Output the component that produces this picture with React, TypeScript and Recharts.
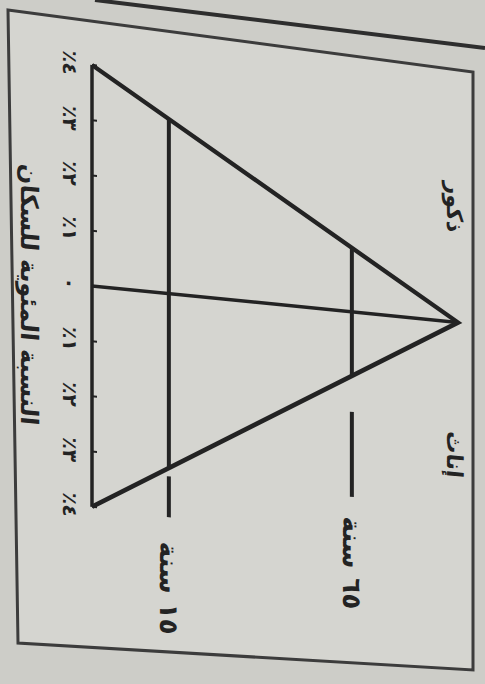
import React from "react";
import { ScatterChart, Scatter, XAxis, YAxis, ReferenceDot } from "recharts";

// ---------------------------------------------------------------------------
// Schematic population pyramid (photo of a textbook page, turned on its side).
// The chart is drawn upright and the whole thing is rotated + sheared with CSS
// so that it sits like the photographed page.
// ---------------------------------------------------------------------------

const INK = "#232323";
const FONT = "'DejaVu Sans', sans-serif";

// percentage axis (males on the negative side)
const pctTicks = [-4, -3, -2, -1, 0, 1, 2, 3, 4];
const pctTickLabels = ["٪٤", "٪٣", "٪٢", "٪١", "٠", "٪١", "٪٢", "٪٣", "٪٤"];
const axisTitle = "النسبة المئوية للسكان";

// pyramid outline: base corners at ±4 %, apex at the top of the age scale
const outlinePct = [-4, 0, 4];
const outlineLevel = [0, 100, 0];
const basePct = [-4, 4];
const centerLevel = [0, 100];

// age dividers
const ageLabels = ["١٥ سنة", "٦٥ سنة"];
const ageLevels = [21, 71];
const ageHalfWidth = [3.16, 1.16];
const ageTickFrom = [3.31, 1.81];
const ageTickTo = [4.05, 3.35];
const ageLabelAt = [4.5, 3.71];

// sex labels near the apex
const sexLabels = ["ذكور", "إناث"];
const sexPct = [-2.08, 2.4];
const sexLevel = 99;

type Pt = { pct: number; level: number };

const outline: Pt[] = outlinePct.map((p, i) => ({ pct: p, level: outlineLevel[i] }));
const base: Pt[] = basePct.map((p) => ({ pct: p, level: 0 }));
const center: Pt[] = centerLevel.map((l) => ({ pct: 0, level: l }));
const ageLines: Pt[][] = ageLevels.map((lv, i) => [
  { pct: -ageHalfWidth[i], level: lv },
  { pct: ageHalfWidth[i], level: lv },
]);
const ageTicks: Pt[][] = ageLevels.map((lv, i) => [
  { pct: ageTickFrom[i], level: lv },
  { pct: ageTickTo[i], level: lv },
]);

const noPoint = () => <g />;

function textShape(text: string, anchor: "start" | "middle", size: number) {
  return (props: any) => (
    <text
      x={props.cx}
      y={props.cy}
      textAnchor={anchor}
      dominantBaseline="central"
      fontFamily={FONT}
      fontWeight="bold"
      fontSize={size}
      fill={INK}
    >
      {text}
    </text>
  );
}

function PctTick(props: any) {
  const { x, y, payload } = props;
  return (
    <text
      x={x}
      y={y}
      dy="0.71em"
      textAnchor="middle"
      fontFamily={FONT}
      fontWeight="bold"
      fontSize={20}
      fill={INK}
    >
      {pctTickLabels[pctTicks.indexOf(payload.value)]}
    </text>
  );
}

export default function App() {
  const W = 728;
  const H = 471;
  return (
    <div
      style={{
        position: "absolute",
        left: 0,
        top: 0,
        width: 485,
        height: 684,
        overflow: "hidden",
        background: "#c9c9c4",
      }}
    >
      {/* page frame */}
      <svg width={485} height={684} style={{ position: "absolute", left: 0, top: 0 }}>
        <polygon points="0,0 485,0 485,684 0,684" fill="#cdcdc8" />
        <polygon points="8,10 473,72 473,670 18,643" fill="#d5d5d0" stroke="#3c3c3c" strokeWidth={3} />
        <line x1={95} y1={0} x2={485} y2={48} stroke="#2e2e2e" strokeWidth={4} />
      </svg>

      <div
        style={{
          position: "absolute",
          left: 0,
          top: 0,
          width: W,
          height: H,
          transformOrigin: "0 0",
          transform: "translate(478px, -39.5px) skewY(5.71deg) rotate(90deg)",
        }}
      >
        <ScatterChart width={W} height={H} margin={{ top: 20, right: 5, bottom: 0, left: 5 }}>
          <XAxis
            type="number"
            dataKey="pct"
            domain={[-6.5, 6.5]}
            ticks={pctTicks}
            interval={0}
            height={85}
            axisLine={false}
            tickSize={-5}
            tickMargin={20}
            tickLine={{ stroke: INK, strokeWidth: 2 }}
            tick={<PctTick />}
            label={{
              value: axisTitle,
              position: "insideBottom",
              offset: 14,
              dx: 15,
              fontFamily: FONT,
              fontWeight: "bold",
              fontSize: 24,
              fill: INK,
            }}
          />
          <YAxis type="number" dataKey="level" domain={[0, 100]} hide />

          <Scatter data={base} shape={noPoint} line={{ stroke: INK, strokeWidth: 3.5 }} lineType="joint" isAnimationActive={false} />
          <Scatter data={outline} shape={noPoint} line={{ stroke: INK, strokeWidth: 4.5, strokeLinejoin: "miter" }} lineType="joint" isAnimationActive={false} />
          <Scatter data={center} shape={noPoint} line={{ stroke: INK, strokeWidth: 3.5 }} lineType="joint" isAnimationActive={false} />
          {ageLines.map((d, i) => (
            <Scatter key={`al${i}`} data={d} shape={noPoint} line={{ stroke: INK, strokeWidth: 4 }} lineType="joint" isAnimationActive={false} />
          ))}
          {ageTicks.map((d, i) => (
            <Scatter key={`at${i}`} data={d} shape={noPoint} line={{ stroke: INK, strokeWidth: 4 }} lineType="joint" isAnimationActive={false} />
          ))}

          {ageLabels.map((t, i) => (
            <ReferenceDot key={`ag${i}`} x={ageLabelAt[i]} y={ageLevels[i]} r={0} ifOverflow="visible" shape={textShape(t, "start", 26)} />
          ))}
          {sexLabels.map((t, i) => (
            <ReferenceDot key={`sx${i}`} x={sexPct[i]} y={sexLevel} r={0} ifOverflow="visible" shape={textShape(t, "middle", 22)} />
          ))}
        </ScatterChart>
      </div>
    </div>
  );
}
